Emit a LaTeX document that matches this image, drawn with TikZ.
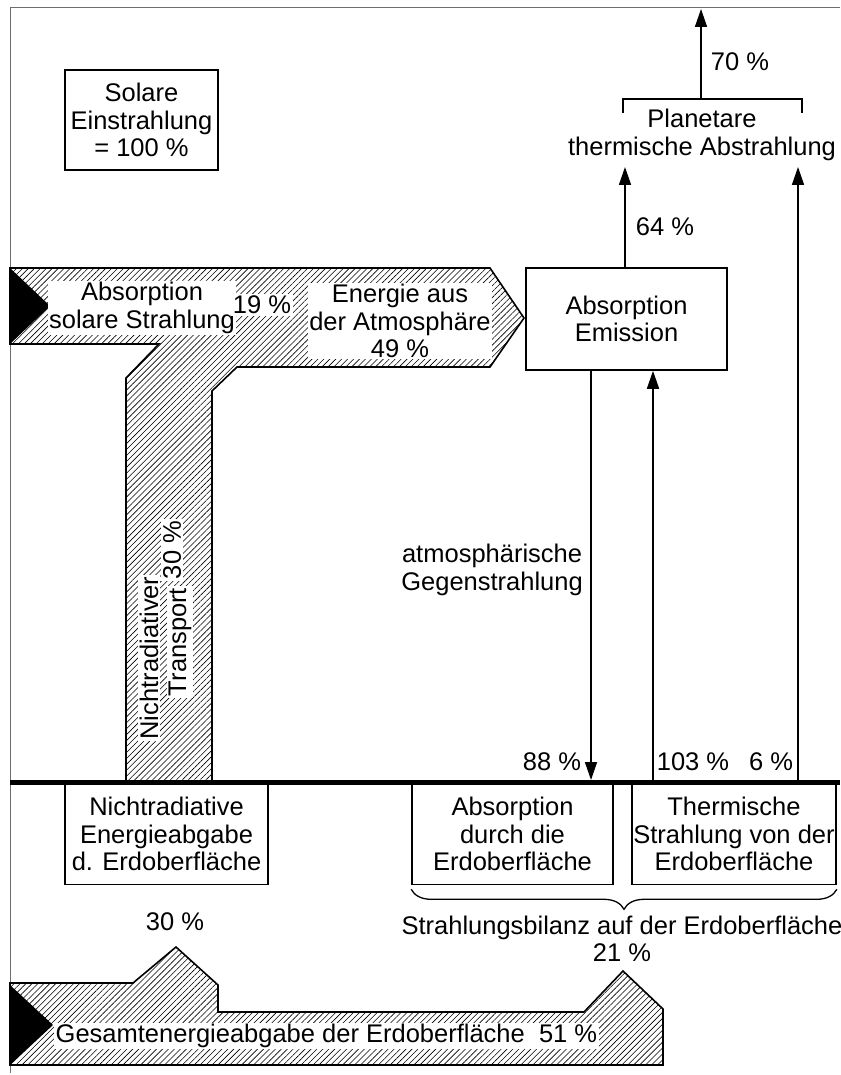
\documentclass[tikz,border=0pt]{standalone}
\usepackage{fontspec}
\setmainfont{Liberation Sans}
\usetikzlibrary{arrows.meta,patterns.meta,decorations.pathreplacing}
\definecolor{framegray}{RGB}{110,110,110}
\begin{document}
\begin{tikzpicture}[x=1pt,y=-1pt,
  every node/.style={font=\fontsize{25.5}{27.5}\selectfont, inner sep=0pt},
  box/.style={draw, line width=1.6pt, align=center, fill=white},
  txt/.style={align=center},
  wtxt/.style={align=center, fill=white, inner sep=1.5pt},
  band/.style={draw, line width=1.6pt, pattern={Lines[angle=45,distance=4.2pt,line width=0.6pt]}},
  arr/.style={line width=1.6pt, -{Triangle[length=18pt,width=12pt]}},
  bracket/.style={line width=1.6pt},
  frameline/.style={draw=framegray, line width=1pt}]
\useasboundingbox (0,0) rectangle (840,1075);
% frame
\coordinate (fTR) at (840,8);
\coordinate (fTL) at (10,8);
\coordinate (fBL) at (10,1073);
\draw[frameline] (fTR) -- (fTL) -- (fBL);

% solar box
\node[box, minimum width=153pt, minimum height=100pt] (solar) at (141.5,120) {Solare\\Einstrahlung\\= 100 \%};

% upper band
\path[band] (10,268) -- (490,268) -- (524,318) -- (490,367) -- (237,367) -- (212,391) -- (212,782) -- (126,782) -- (126,378) -- (159,344) -- (10,344) -- cycle;
\fill (10,268) -- (50,306) -- (10,344) -- cycle;

% lower band
\path[band] (10,983) -- (133,983) -- (176,947) -- (218,985) -- (218,1012) -- (584,1012) -- (623,971) -- (663,1009) -- (663,1065) -- (10,1065) -- cycle;
\fill (10,985) -- (53,1025) -- (10,1065) -- cycle;

% band texts
\node[wtxt] (abss) at (142,308) {Absorption\\solare Strahlung};
\node[wtxt] (p19) at (262,305) {19 \%};
\node[wtxt] (eatm) at (400,321) {Energie aus\\der Atmosphäre\\49 \%};
\node[wtxt, rotate=90] (nt1) at (149,658) {Nichtradiativer};
\node[wtxt, rotate=90] (nt2) at (180,642) {Transport};
\node[wtxt, rotate=90] (p30v) at (172,550) {30 \%};
\node[wtxt, anchor=west] (ges) at (54,1036) {Gesamtenergieabgabe der Erdoberfläche\ \ 51 \%};

% atmosphere box
\node[box, minimum width=201pt, minimum height=102pt] (absem) at (626.5,319) {Absorption\\Emission};

% coordinates
\coordinate (t64) at (625,167);
\coordinate (t6) at (798,167);
\coordinate (g88) at (591,780);
\coordinate (g103) at (653,780);
\coordinate (g6) at (798,782);
\coordinate (bl) at (623,113);
\coordinate (br) at (802,113);
\coordinate (bm) at (701,99);
\coordinate (t70) at (701,9);

% arrows
\draw[arr] (absem.north -| t64) -- (t64);
\draw[arr] (g6) -- (t6);
\draw[arr] (absem.south -| g88) -- (g88);
\draw[arr] (g103) -- (absem.south -| g103);
\draw[bracket] (bl) -- (bl |- bm) -| (br);
\draw[arr] (bm) -- (t70);

% labels
\node[txt] (l64) at (665,227) {64 \%};
\node[txt] (l70) at (740,62) {70 \%};
\node[txt] (plan) at (702,135) {Planetare\\thermische Abstrahlung};
\node[txt, anchor=east] (atm) at (583,570) {atmosphärische\\Gegenstrahlung};
\node[txt] (l88) at (552,762) {88 \%};
\node[txt] (l103) at (693,762) {103 \%};
\node[txt] (l6) at (771,762) {6 \%};

% lower boxes
\node[box, minimum width=203pt, minimum height=101pt] (nre) at (166.5,834) {Nichtradiative\\Energieabgabe\\d. Erdoberfläche};
\node[box, minimum width=201pt, minimum height=101pt] (absd) at (512.5,834) {Absorption\\durch die\\Erdoberfläche};
\node[box, minimum width=204pt, minimum height=101pt] (ths) at (734,834) {Thermische\\Strahlung von der\\Erdoberfläche};

% ground
\coordinate (gl) at (10,782.5);
\coordinate (gr) at (840,782.5);
\draw[line width=5pt] (gl) -- (gr);

% brace and balance
\draw[line width=1.3pt, decorate, decoration={brace,mirror,amplitude=20pt}] ([yshift=-4pt]absd.south west) -- ([yshift=-4pt]ths.south east);
\node[txt] (bil) at (622,939) {Strahlungsbilanz auf der Erdoberfläche\\21 \%};
\node[txt] (l30) at (175,922) {30 \%};
\end{tikzpicture}
\end{document}
